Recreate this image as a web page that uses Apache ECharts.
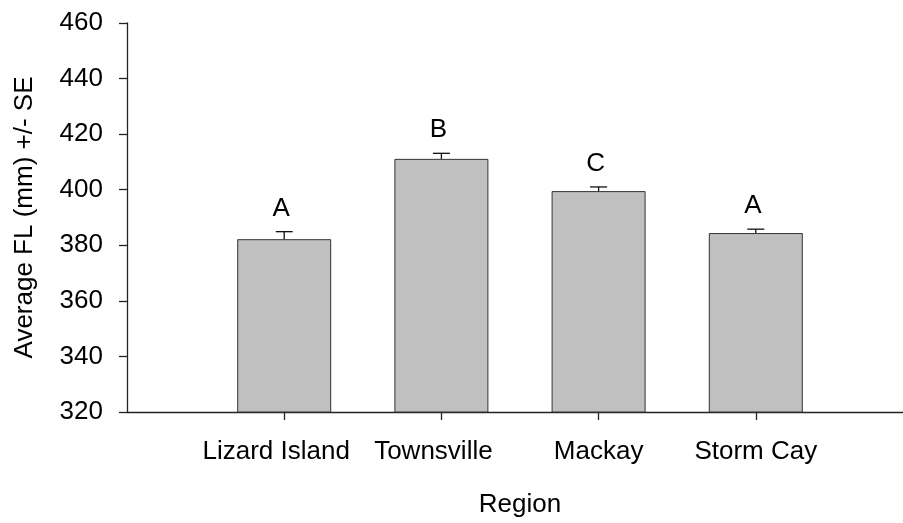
<!DOCTYPE html>
<html>
<head>
<meta charset="utf-8">
<script src="https://cdn.jsdelivr.net/npm/echarts@6/dist/echarts.min.js"></script>
<style>html,body{margin:0;padding:0;background:#fff;overflow:hidden}#c{width:913px;height:523px}</style>
</head>
<body>
<div id="c"></div>
<script>
const categories = ['Lizard Island', 'Townsville', 'Mackay', 'Storm Cay'];
const means = [382.2, 411.1, 399.5, 384.4];
const se = [2.7, 2.0, 1.5, 1.4];
const letters = ['A', 'B', 'C', 'A'];
const yTicks = { min: 320, max: 460, interval: 20 };

const FONT = '"Liberation Sans", Arial, sans-serif';
// pad the category axis so that the y axis sits one slot left of the first bar
const axisCats = [''].concat(categories, ['']);
const barData = ['-'].concat(means, ['-']);
const errData = categories.map((c, i) => [i + 1, means[i], se[i], letters[i]]);

const chart = echarts.init(document.getElementById('c'), null, { renderer: 'canvas' });
chart.setOption({
  animation: false,
  backgroundColor: '#fff',
  grid: { left: 127, right: 0, top: 23, bottom: 110, containLabel: false },
  xAxis: {
    type: 'category',
    data: axisCats,
    boundaryGap: false,
    name: 'Region',
    nameLocation: 'middle',
    nameGap: 80,
    nameTextStyle: { fontFamily: FONT, fontSize: 26, color: '#000' },
    axisLine: { lineStyle: { color: '#222', width: 1.3 } },
    axisTick: { show: true, length: 8, inside: false, lineStyle: { color: '#222', width: 1.3 },
      interval: (idx, val) => val !== '' },
    axisLabel: { fontFamily: FONT, fontSize: 26, color: '#000', margin: 27,
      interval: (idx, val) => val !== '',
      formatter: (val, idx) => (idx === 1 || idx === 2) ? '{s|' + val + '}' : val,
      rich: { s: { fontFamily: FONT, fontSize: 26, color: '#000', padding: [0, 16, 0, 0] } } },
    splitLine: { show: false }
  },
  yAxis: {
    type: 'value',
    min: yTicks.min, max: yTicks.max, interval: yTicks.interval,
    name: 'Average FL (mm) +/- SE',
    nameLocation: 'middle',
    nameGap: 89,
    nameRotate: 90,
    nameTextStyle: { fontFamily: FONT, fontSize: 26, color: '#000' },
    axisLine: { show: true, lineStyle: { color: '#222', width: 1.3 } },
    axisTick: { show: true, length: 8, inside: false, lineStyle: { color: '#222', width: 1.3 } },
    axisLabel: { fontFamily: FONT, fontSize: 26, color: '#000', margin: 24 },
    splitLine: { show: false }
  },
  series: [
    {
      type: 'bar',
      data: barData,
      barWidth: 94,
      itemStyle: { color: '#c0c0c0', borderColor: '#333', borderWidth: 1 },
      z: 2
    },
    {
      type: 'custom',
      data: errData,
      z: 3,
      renderItem: function (params, api) {
        const x = api.value(0), m = api.value(1), e = api.value(2);
        const p0 = api.coord([x, m]);
        const p1 = api.coord([x, m + e]);
        const hw = 8.5;
        return {
          type: 'group',
          children: [
            { type: 'line', shape: { x1: p0[0], y1: p0[1], x2: p1[0], y2: p1[1] },
              style: { stroke: '#111', lineWidth: 1.3 } },
            { type: 'line', shape: { x1: p1[0] - hw, y1: p1[1], x2: p1[0] + hw, y2: p1[1] },
              style: { stroke: '#111', lineWidth: 1.3 } },
            { type: 'text', style: { text: letters[params.dataIndex], x: p1[0] - 3, y: p1[1] - 10,
                align: 'center', verticalAlign: 'bottom', fontFamily: FONT, fontSize: 26, fill: '#000' } }
          ]
        };
      }
    }
  ]
});
</script>
</body>
</html>
